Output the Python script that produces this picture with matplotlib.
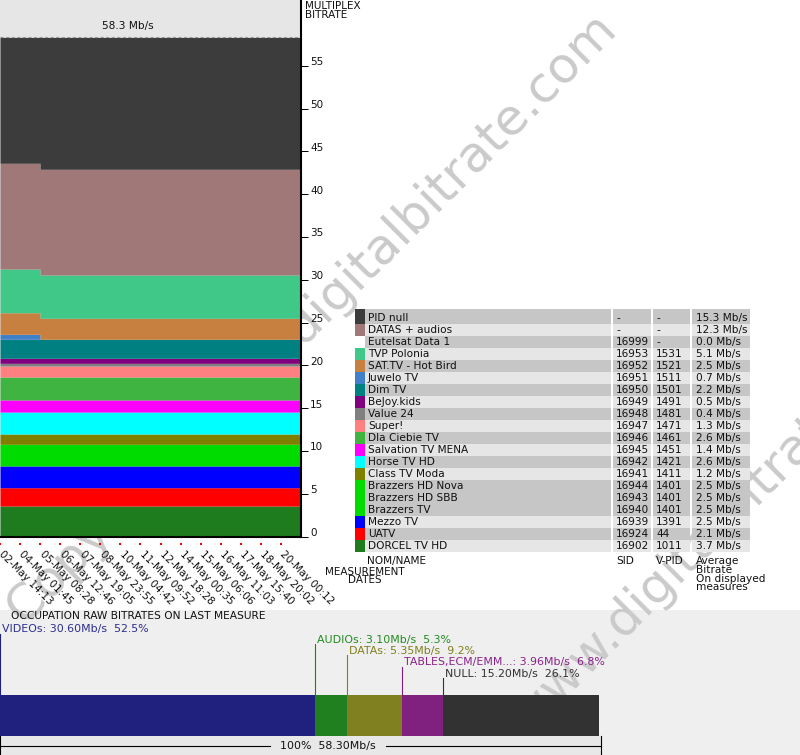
import numpy as np
import matplotlib
matplotlib.use("Agg")
import matplotlib.pyplot as plt
from matplotlib.patches import Rectangle

# --- multiplex stack (bottom -> top), Mb/s
stack_names = ["DORCEL TV HD", "UATV", "Mezzo TV", "Brazzers", "Class TV Moda",
               "Horse TV HD", "Salvation TV MENA", "Dla Ciebie TV", "Super!", "Value 24",
               "BeJoy.kids", "Dim TV", "Juwelo TV", "SAT.TV - Hot Bird", "TVP Polonia",
               "DATAS + audios", "PID null"]
stack_colors = ["#1e7b1e", "#ff0000", "#0000ff", "#00dc00", "#808000",
                "#00ffff", "#ff00ff", "#40b440", "#ff8080", "#808080",
                "#800080", "#008080", "#4080c8", "#c88040", "#40c888",
                "#a07878", "#3c3c3c"]
# first measures (before the change) and the rest
stack_early = [3.56, 2.14, 2.54, 2.53, 1.20, 2.57, 1.41, 2.68, 1.29, 0.31,
               0.59, 2.22, 0.58, 2.52, 5.11, 12.35, 14.70]
stack_late = [3.56, 2.14, 2.54, 2.53, 1.20, 2.57, 1.41, 2.68, 1.29, 0.31,
              0.59, 2.22, 0.00, 2.45, 5.06, 12.35, 15.40]
n_measures = 300
n_early = 40
mux_total = 58.3

dates = ["02-May 14:13", "04-May 01:45", "05-May 08:28", "06-May 12:46", "07-May 19:05",
         "08-May 23:55", "10-May 04:42", "11-May 09:52", "12-May 18:28", "14-May 00:35",
         "15-May 06:06", "16-May 11:03", "17-May 15:40", "18-May 20:02", "20-May 00:12"]
date_idx = list(range(0, 300, 20))

# --- legend table
table_names = ["PID null", "DATAS + audios", "Eutelsat Data 1", "TVP Polonia",
               "SAT.TV - Hot Bird", "Juwelo TV", "Dim TV", "BeJoy.kids", "Value 24",
               "Super!", "Dla Ciebie TV", "Salvation TV MENA", "Horse TV HD",
               "Class TV Moda", "Brazzers HD Nova", "Brazzers HD SBB", "Brazzers TV",
               "Mezzo TV", "UATV", "DORCEL TV HD"]
table_sid = ["-", "-", "16999", "16953", "16952", "16951", "16950", "16949", "16948",
             "16947", "16946", "16945", "16942", "16941", "16944", "16943", "16940",
             "16939", "16924", "16902"]
table_vpid = ["-", "-", "-", "1531", "1521", "1511", "1501", "1491", "1481", "1471",
              "1461", "1451", "1421", "1411", "1401", "1401", "1401", "1391", "44", "1011"]
table_avg = [15.3, 12.3, 0.0, 5.1, 2.5, 0.7, 2.2, 0.5, 0.4, 1.3, 2.6, 1.4, 2.6, 1.2,
             2.5, 2.5, 2.5, 2.5, 2.1, 3.7]
table_colors = ["#3c3c3c", "#a07878", None, "#40c888", "#c88040", "#4080c8", "#008080",
                "#800080", "#808080", "#ff8080", "#40b440", "#ff00ff", "#00ffff",
                "#808000", "#00dc00", "#00dc00", "#00dc00", "#0000ff", "#ff0000", "#1e7b1e"]
table_group = [0, 1, 2, 3, 4, 5, 6, 7, 8, 9, 10, 11, 12, 13, 14, 14, 14, 15, 16, 17]

# --- occupation on last measure
occ_labels = ["VIDEOs", "AUDIOs", "DATAs", "TABLES,ECM/EMM...", "NULL"]
occ_mbps = [30.60, 3.10, 5.35, 3.96, 15.20]
occ_pct = [52.5, 5.3, 9.2, 6.8, 26.1]
occ_colors = ["#20207f", "#208020", "#808020", "#80207f", "#323232"]
occ_text_colors = ["#2e2e90", "#228b22", "#80801e", "#8b228b", "#333333"]

W, H = 800, 755
plt.rcParams['font.family'] = ['DejaVu Sans']
plt.rcParams['font.size'] = 7.6
fig = plt.figure(figsize=(W / 100, H / 100), dpi=100)
TXT = "#111111"


def frac(x0, y0, x1, y1):
    return [x0 / W, 1 - y1 / H, (x1 - x0) / W, (y1 - y0) / H]


# background layer in pixel coordinates
bg = fig.add_axes([0, 0, 1, 1], zorder=0)
bg.set_xlim(0, W)
bg.set_ylim(H, 0)
bg.axis('off')

bg.add_patch(Rectangle((0, 610), 800, 145, color="#efefef", lw=0, zorder=0.5))
bg.add_patch(Rectangle((0, 736), 601, 19, color="#e8e8e8", lw=0, zorder=1.5))

wm = "Copyright www.digitalbitrate.com"
for cx, cy in [(312, 320), (632, 613)]:
    bg.text(cx, cy, wm, rotation=45, ha='center', va='center', fontsize=36,
            color="#cacaca", zorder=1)

bg.text(305, 1, "MULTIPLEX\nBITRATE", ha='left', va='top', fontsize=7.5,
        linespacing=0.85, color=TXT, zorder=3)
bg.text(365, 576, "MEASUREMENT\nDATES", ha='center', va='center', fontsize=7.5,
        linespacing=0.85, color=TXT, zorder=3)

# legend table
row_h = 12
for i, name in enumerate(table_names):
    y0 = 312 + row_h * i
    top = 309 if i == 0 else y0
    shade = "#c6c6c6" if table_group[i] % 2 == 0 else "#e6e6e6"
    for x0, x1 in [(365, 611), (613, 651), (653, 690), (692, 750)]:
        bg.add_patch(Rectangle((x0, top), x1 - x0, y0 + row_h - top, color=shade, lw=0, zorder=2))
    if table_colors[i]:
        bg.add_patch(Rectangle((355, top), 10, y0 + row_h - top, color=table_colors[i], lw=0, zorder=2))
    yc = y0 + row_h / 2
    kw = dict(va='center', ha='left', color=TXT, zorder=3)
    bg.text(368, yc, name, **kw)
    bg.text(616, yc, table_sid[i], **kw)
    bg.text(656, yc, table_vpid[i], **kw)
    bg.text(696, yc, f"{table_avg[i]:.1f} Mb/s", **kw)

hkw = dict(va='center', ha='left', color=TXT, zorder=3)
bg.text(367, 561, "NOM/NAME", **hkw)
bg.text(616, 561, "SID", **hkw)
bg.text(656, 561, "V-PID", **hkw)
bg.text(696, 556, "Average\nBitrate\nOn displayed\nmeasures", ha='left', va='top',
        linespacing=0.85, color=TXT, zorder=3)

bg.text(11, 616, "OCCUPATION RAW BITRATES ON LAST MEASURE", ha='left', va='center',
        fontsize=7.7, color=TXT, zorder=3)

# main stacked chart
px_per_unit = 8.56
ax = fig.add_axes(frac(0, 0, 301, 536.5), zorder=1)
ax.set_facecolor("#e6e6e6")
ax.set_xlim(0, n_measures)
ax.set_ylim(0, 536.5 / px_per_unit)

x = np.arange(n_measures + 1)
base = np.zeros(n_measures + 1)
for e, l, c in zip(stack_early, stack_late, stack_colors):
    vals = np.where(x < n_early, e, l)
    ax.fill_between(x, base, base + vals, step='post', color=c, lw=0, antialiased=False)
    base = base + vals

ax.axhline(mux_total, color="#9a9a9a", ls=(0, (3, 2)), lw=0.8)
ax.text(127, (536.5 - 26.5) / px_per_unit, f"{mux_total} Mb/s", ha='center', va='center',
        color=TXT)

for s in ['top', 'left']:
    ax.spines[s].set_visible(False)
for s in ['right', 'bottom']:
    ax.spines[s].set_linewidth(1.5)
    ax.spines[s].set_color("black")

yt = list(range(0, 56, 5))
ax.yaxis.tick_right()
ax.set_yticks(yt)
ax.tick_params(axis='y', length=5, width=0.72, direction='out', labelright=False)
for v in yt:
    ax.annotate(str(v), xy=(1, v), xycoords=ax.get_yaxis_transform(), xytext=(9, 3.5),
                textcoords='offset pixels', ha='left', va='center', fontsize=7.5,
                color=TXT, annotation_clip=False)

ax.set_xticks(date_idx, [""] * len(date_idx))
ax.tick_params(axis='x', length=0)
for xi, d in zip(date_idx, dates):
    ax.annotate(d, xy=(xi, 0), xycoords=ax.get_xaxis_transform(), xytext=(4.5, -12),
                textcoords='offset pixels', rotation=-45, rotation_mode='anchor',
                ha='left', va='top', fontsize=7.5, color=TXT, annotation_clip=False)
ax.plot(date_idx, [-7.5 / 536.5] * len(date_idx), 's', ms=1.5, color="red", mew=0,
        transform=ax.get_xaxis_transform(), clip_on=False)

# occupation bar
occ_total = sum(occ_mbps)
axb = fig.add_axes(frac(0, 610, 599, 755), zorder=2)
axb.set_facecolor("none")
axb.axis('off')
axb.set_xlim(0, occ_total)
axb.set_ylim(755, 610)
lefts = np.concatenate([[0], np.cumsum(occ_mbps)[:-1]])
axb.barh(715.5, occ_mbps, left=lefts, height=41, color=occ_colors, lw=0)
label_y = [629.3, 639.7, 650.7, 662.3, 673.7]
for lab, mb, pc, l0, ly, c, tc in zip(occ_labels, occ_mbps, occ_pct, lefts, label_y,
                                     occ_colors, occ_text_colors):
    axb.plot([l0, l0], [ly + 4.5, 695], color=c, lw=0.8, clip_on=False)
    axb.annotate(f"{lab}: {mb:.2f}Mb/s  {pc:.1f}%", xy=(l0, ly), xytext=(2, 0),
                 textcoords='offset pixels', ha='left', va='center', fontsize=7.9, color=tc)

k = occ_total / 599
axb.plot([0, 0], [736, 755], color="black", lw=0.8, clip_on=False)
axb.plot([occ_total + 1.5 * k] * 2, [736, 755], color="black", lw=0.8, clip_on=False)
axb.plot([0, 270 * k], [746, 746], color="black", lw=0.8, clip_on=False)
axb.plot([386 * k, occ_total + 1.5 * k], [746, 746], color="black", lw=0.8, clip_on=False)
axb.text(328 * k, 746, f"100%  {mux_total:.2f}Mb/s", ha='center', va='center', fontsize=7.9,
         color=TXT)

fig.savefig("out.png", dpi=100)
